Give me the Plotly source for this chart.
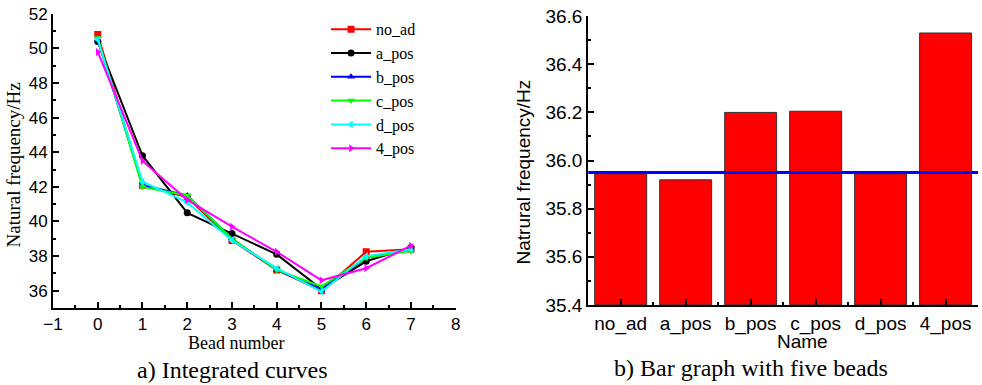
import plotly.graph_objects as go

# ---- Data: left panel (integrated curves) ----
bead_number = [0, 1, 2, 3, 4, 5, 6, 7]
no_ad = [50.8, 42.1, 41.4, 38.9, 37.2, 36.0, 38.25, 38.4]
a_pos = [50.4, 43.8, 40.5, 39.3, 38.1, 36.1, 37.7, 38.5]
b_pos = [50.5, 42.1, 41.5, 39.0, 37.2, 36.1, 37.9, 38.4]
c_pos = [50.6, 42.0, 41.5, 39.0, 37.2, 36.25, 37.9, 38.3]
d_pos = [50.5, 42.3, 41.1, 38.9, 37.3, 35.95, 38.0, 38.4]
pos_4 = [49.8, 43.5, 41.25, 39.7, 38.25, 36.6, 37.3, 38.6]

series_names = ["no_ad", "a_pos", "b_pos", "c_pos", "d_pos", "4_pos"]
series_values = [no_ad, a_pos, b_pos, c_pos, d_pos, pos_4]
series_colors = ["#ff0000", "#000000", "#0000ff", "#00ff00", "#00ffff", "#ff00ff"]
series_symbols = ["square", "circle", "triangle-up", "triangle-down", "triangle-left", "triangle-right"]

# ---- Data: right panel (bar graph) ----
bar_names = ["no_ad", "a_pos", "b_pos", "c_pos", "d_pos", "4_pos"]
bar_values = [35.945, 35.92, 36.2, 36.205, 35.945, 36.53]
baseline = 35.95

left_ticks = [-1, 0, 1, 2, 3, 4, 5, 6, 7, 8]
left_yticks = [36, 38, 40, 42, 44, 46, 48, 50, 52]
right_yticks = [35.4, 35.6, 35.8, 36.0, 36.2, 36.4, 36.6]

SANS = "Liberation Sans, Arial, sans-serif"
SERIF = "Liberation Serif, Times New Roman, serif"

bar_pos = list(range(len(bar_names)))

fig = go.Figure()

for name, vals, col, sym in zip(series_names, series_values, series_colors, series_symbols):
    fig.add_trace(go.Scatter(
        x=bead_number, y=vals, mode="lines+markers", name=name,
        line=dict(color=col, width=2),
        marker=dict(color=col, symbol=sym, size=7),
        xaxis="x", yaxis="y",
    ))

fig.add_trace(go.Bar(
    x=bar_pos, y=[v - right_yticks[0] for v in bar_values], base=right_yticks[0],
    marker=dict(color="#ff0000", line=dict(color="#333333", width=1)),
    width=0.8, showlegend=False, xaxis="x2", yaxis="y2",
))

fig.add_shape(type="line", xref="x2 domain", yref="y2", x0=0, x1=1,
              y0=baseline, y1=baseline, line=dict(color="#0000ff", width=3))

axis_common = dict(
    showline=True, linecolor="black", linewidth=2, showgrid=False, zeroline=False,
    ticks="inside", ticklen=6, tickwidth=2, tickcolor="black", automargin=False,
)

fig.update_layout(
    width=982, height=385,
    margin=dict(l=0, r=0, t=0, b=0, autoexpand=False),
    paper_bgcolor="white", plot_bgcolor="white",
    xaxis=dict(domain=[0.054, 0.464], range=[-1, 8], tickvals=left_ticks,
               tickfont=dict(family=SANS, size=17, color="black"),
               minor=dict(ticks="inside", ticklen=3, tickwidth=2, dtick=0.5, tickcolor="black"),
               anchor="y", **axis_common),
    yaxis=dict(domain=[0.2, 0.964], range=[35, 52], tickvals=left_yticks,
               tickfont=dict(family=SANS, size=17, color="black"),
               minor=dict(ticks="inside", ticklen=3, tickwidth=2, dtick=1, tickcolor="black"),
               anchor="x", **axis_common),
    xaxis2=dict(domain=[0.599, 0.996], range=[-0.5, 5.5], tickvals=bar_pos, ticktext=bar_names,
                tickfont=dict(family=SANS, size=19, color="black"),
                minor=dict(ticks="inside", ticklen=3, tickwidth=2, tick0=0.5, dtick=1, tickcolor="black"),
                anchor="y2", **axis_common),
    yaxis2=dict(domain=[0.208, 0.958], range=[35.4, 36.6], tickvals=right_yticks,
                tickformat=".1f", tickfont=dict(family=SANS, size=19, color="black"),
                minor=dict(ticks="inside", ticklen=3, tickwidth=2, dtick=0.1, tickcolor="black"),
                anchor="x2", **axis_common),
    legend=dict(x=0.332, y=0.968, xanchor="left", yanchor="top",
                font=dict(family=SERIF, size=16, color="black"),
                bgcolor="rgba(0,0,0,0)", tracegroupgap=0, itemwidth=40),
    showlegend=True,
)

annotations = [
    dict(text="Natural frequency/Hz", x=0.0135, y=0.571, textangle=-90,
         font=dict(family=SERIF, size=19)),
    dict(text="Bead number", x=0.24, y=0.109, font=dict(family=SERIF, size=18)),
    dict(text="a) Integrated curves", x=0.237, y=0.039, font=dict(family=SERIF, size=24)),
    dict(text="Natrural frequency/Hz", x=0.533, y=0.553, textangle=-90,
         font=dict(family=SANS, size=19)),
    dict(text="Name", x=0.817, y=0.112, font=dict(family=SANS, size=19)),
    dict(text="b) Bar graph with five beads", x=0.765, y=0.044, font=dict(family=SERIF, size=24)),
]
for a in annotations:
    a.update(xref="paper", yref="paper", showarrow=False, xanchor="center", yanchor="middle")
    a["font"]["color"] = "black"
fig.update_layout(annotations=annotations)

fig.write_html("out.html")
